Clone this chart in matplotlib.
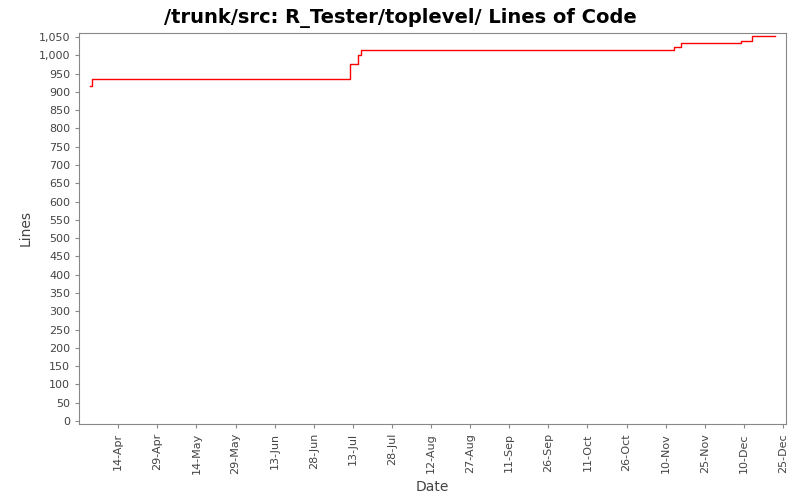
import datetime
import matplotlib
matplotlib.use('Agg')
import matplotlib.pyplot as plt
import matplotlib.dates as mdates

# step dates and line counts
dates = ['2007-04-03', '2007-04-04', '2007-07-12', '2007-07-15', '2007-07-16',
         '2007-11-13', '2007-11-16', '2007-12-09', '2007-12-13', '2007-12-22']
lines = [917, 935, 975, 1002, 1014, 1024, 1033, 1039, 1054, 1054]

tick_dates = [datetime.date(2007, 4, 14) + datetime.timedelta(days=15 * i) for i in range(18)]

x = [datetime.datetime.fromisoformat(d) for d in dates]

fig = plt.figure(figsize=(8, 5), dpi=100)
ax = fig.add_axes([0.099, 0.152, 0.883, 0.782])
ax.plot(x, lines, color='red', lw=1, drawstyle='steps-post')

ax.set_xlim(datetime.date(2007, 3, 30), datetime.date(2007, 12, 26))
ax.set_ylim(-8, 1061)
ax.set_yticks(range(0, 1051, 50))
ax.yaxis.set_major_formatter(matplotlib.ticker.FuncFormatter(lambda v, p: f'{int(v):,}'))
ax.set_xticks(tick_dates)
ax.xaxis.set_major_formatter(mdates.DateFormatter('%d-%b'))
for lbl in ax.get_xticklabels():
    lbl.set_rotation(90)
ax.tick_params(labelsize=8, color='#888888', length=3, labelcolor='#444444')
for s in ax.spines.values():
    s.set_color('#888888')

ax.set_xlabel('Date', fontsize=10, color='#444444')
ax.set_ylabel('Lines', fontsize=10, color='#444444')
fig.suptitle('/trunk/src: R_Tester/toplevel/ Lines of Code', fontsize=14, fontweight='bold', y=0.985)

fig.savefig('out.png', dpi=100)
